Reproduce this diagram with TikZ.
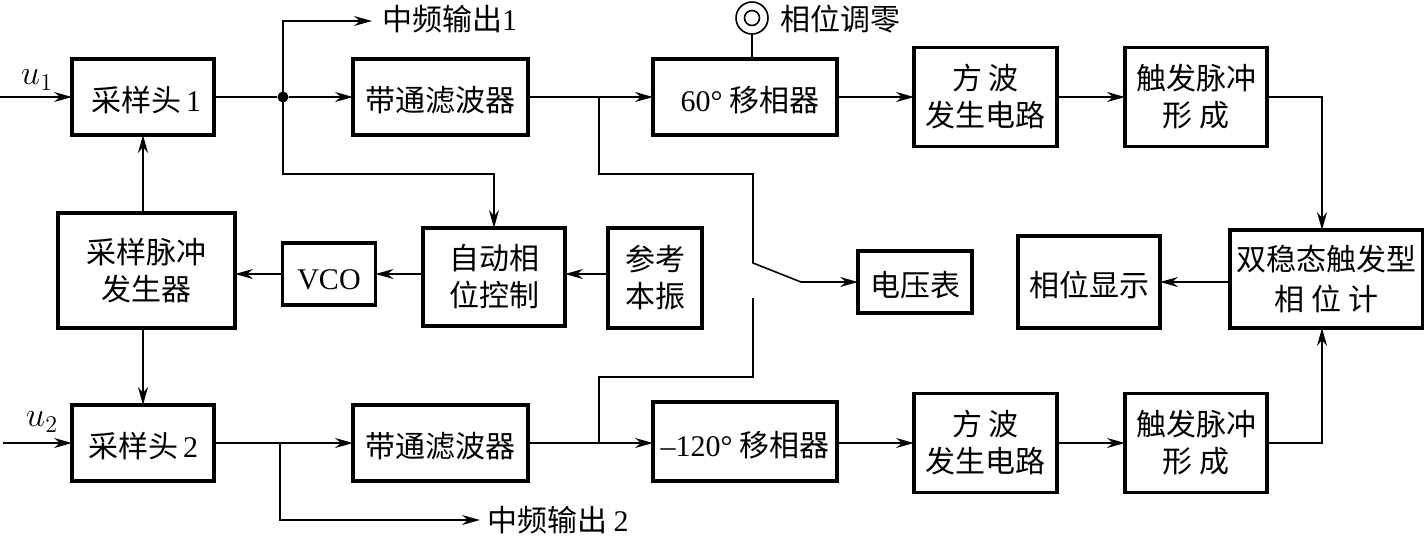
\documentclass[tikz,border=0pt]{standalone}
\usepackage{amsmath}
\usepackage{fontspec}
\setmainfont{Liberation Serif}
\newfontfamily\cjk{Noto Sans CJK SC}
\usetikzlibrary{arrows.meta, positioning, calc}

\begin{document}
\begin{tikzpicture}[x=0.5pt,y=-0.5pt,
    blk/.style={rectangle, draw, line width=1.7pt, outer sep=0pt, inner sep=0pt, align=center, font=\fontsize{15}{18.5}\selectfont\cjk, execute at begin node={\rule{0pt}{16pt}}},
    txt/.style={inner sep=0pt, outer sep=0pt, font=\fontsize{15}{19}\selectfont\cjk},
    conn/.style={line width=0.8pt, -{Stealth[length=9pt,width=5pt,inset=3pt]}},
    vconn/.style={line width=1pt, -{Stealth[length=9pt,width=5pt,inset=3pt]}},
    wire/.style={line width=0.8pt},
    ]
    \useasboundingbox (0,0) rectangle (1424,537);
    % Nodes
    \node[blk, minimum width=71pt, minimum height=38pt] (smp1) at (143,97) {\hspace*{3pt}采样头\hspace{2.5pt}{\rmfamily 1}};
    \node[blk, minimum width=87.5pt, minimum height=38pt] (bpf1) [right=69.5pt of smp1] {带通滤波器};
    \node[blk, minimum width=92pt, minimum height=38pt] (phs1) [right=62.5pt of bpf1] {\hspace*{5pt}{\rmfamily 60°} 移相器};
    \node[blk, minimum width=71.5pt, minimum height=49.5pt] (sqr1) [right=38.5pt of phs1] {方 波\\发生电路};
    \node[blk, minimum width=71pt, minimum height=49.5pt] (trg1) [right=34pt of sqr1] {触发脉冲\\形 成};

    \node[blk, minimum width=71pt, minimum height=38pt] (smp2) [below=135pt of smp1] {采样头\hspace{2.5pt}{\rmfamily 2}};
    \node[blk, minimum width=87.5pt, minimum height=38pt] (bpf2) [right=69.5pt of smp2] {带通滤波器};
    \node[blk, minimum width=92pt, minimum height=39.5pt] (phs2) [right=62.5pt of bpf2, yshift=0.75pt] {{\rmfamily –120°} 移相器};
    \node[blk, minimum width=71.5pt, minimum height=49.5pt] (sqr2) [right=38.5pt of phs2, yshift=-0.75pt] {方 波\\发生电路};
    \node[blk, minimum width=71pt, minimum height=49.5pt] (trg2) [right=34pt of sqr2] {触发脉冲\\形 成};

    \node[blk, minimum width=88.5pt, minimum height=57.5pt] (gen) at (146.5,270.5) {采样脉冲\\发生器};
    \node[blk, minimum width=46.5pt, minimum height=31pt] (vco) at (329,274) {\rmfamily VCO};
    \node[blk, minimum width=71pt, minimum height=49pt] (apc) at (494,277) {自动相\\位控制};
    \node[blk, minimum width=47pt, minimum height=50pt] (ref) at (655,278) {参考\\本振};
    \node[blk, minimum width=57pt, minimum height=31pt] (vm) at (915,282) {电压表};
    \node[blk, minimum width=71pt, minimum height=46pt] (dsp) at (1089,282) {相位显示};
    \node[blk, minimum width=96.5pt, minimum height=49pt] (bst) at (1326.5,279) {双稳态触发型\\[1.5pt]相 位 计};

    % Labels
    \node[txt, anchor=west] (out1) at (382,19) {中频输出{\rmfamily 1}};
    \node[txt, anchor=west] (out2) at (487,520) {中频输出 {\rmfamily 2}};
    \node[txt, anchor=west] (zero) at (780,19) {相位调零};
    \node[inner sep=0pt] (u1) at (37,80) {\fontsize{16.5}{19}\selectfont$u_1$};
    \node[inner sep=0pt] (u2) at (42,422) {\fontsize{16.5}{19}\selectfont$u_2$};

    % Knob
    \node[circle, draw, line width=0.8pt, minimum size=16pt, inner sep=0pt] (knob) at (752,18) {};
    \node[circle, draw, line width=0.8pt, minimum size=7.5pt, inner sep=0pt] (knobin) at (752,18) {};

    % Junctions and free ends
    \coordinate (in1) at (0,97);
    \coordinate (in2) at (3,443);
    \node[circle, fill, inner sep=0pt, minimum size=5.5pt] (jn1) at (283,97) {};
    \coordinate (jn2) at (599,97);
    \coordinate (jn3) at (599,443);
    \coordinate (jn4) at (280,443);
    \coordinate (sw1) at (753,263);
    \coordinate (sw2) at (801,282);
    \coordinate (sw3) at (753,298);
    \coordinate (jn5) at (1322,97);
    \coordinate (jn6) at (1322,443);

    % Arrows
    \draw[conn] (in1) -- (smp1.west);
    \draw[wire] (smp1.east) -- (jn1);
    \draw[conn] (jn1) -- (bpf1.west);
    \draw[conn] (jn1.center) -- (283,21) -- (372,21);
    \draw[conn] (jn1.center) -- (283,174) -| (apc.north);
    \draw[conn] (bpf1.east) -- (phs1.west);
    \draw[conn] (phs1.east) -- (phs1.east -| sqr1.west);
    \draw[conn] (sqr1.east) -- (trg1.west);
    \draw[conn] (trg1.east) -| (bst.north -| jn5);
    \draw[wire] (jn2) |- (753,174) -- (sw1) -- (sw2);
    \draw[conn] (sw2) -- (vm.west);
    \draw[wire] (jn3) |- (753,377) -- (sw3);

    \draw[conn] (in2) -- (smp2.west);
    \draw[wire] (smp2.east) -- (jn4);
    \draw[conn] (jn4) -- (bpf2.west);
    \draw[conn] (jn4) |- (480,520);
    \draw[conn] (bpf2.east) -- (bpf2.east -| phs2.west);
    \draw[conn] (bpf2.east -| phs2.east) -- (sqr2.west);
    \draw[conn] (sqr2.east) -- (trg2.west);
    \draw[conn] (trg2.east) -| (bst.south -| jn6);

    \draw[vconn] (gen.north -| smp1.south) -- (smp1.south);
    \draw[vconn] (gen.south -| smp2.north) -- (smp2.north);
    \draw[conn] (vco.west) -- (vco.west -| gen.east);
    \draw[conn] (vco.east -| apc.west) -- (vco.east);
    \draw[conn] (vco.east -| ref.west) -- (vco.east -| apc.east);
    \draw[conn] (bst.west |- dsp.east) -- (dsp.east);
    \draw[wire] (knob.south) -- (knob.south |- phs1.north);
\end{tikzpicture}
\end{document}
